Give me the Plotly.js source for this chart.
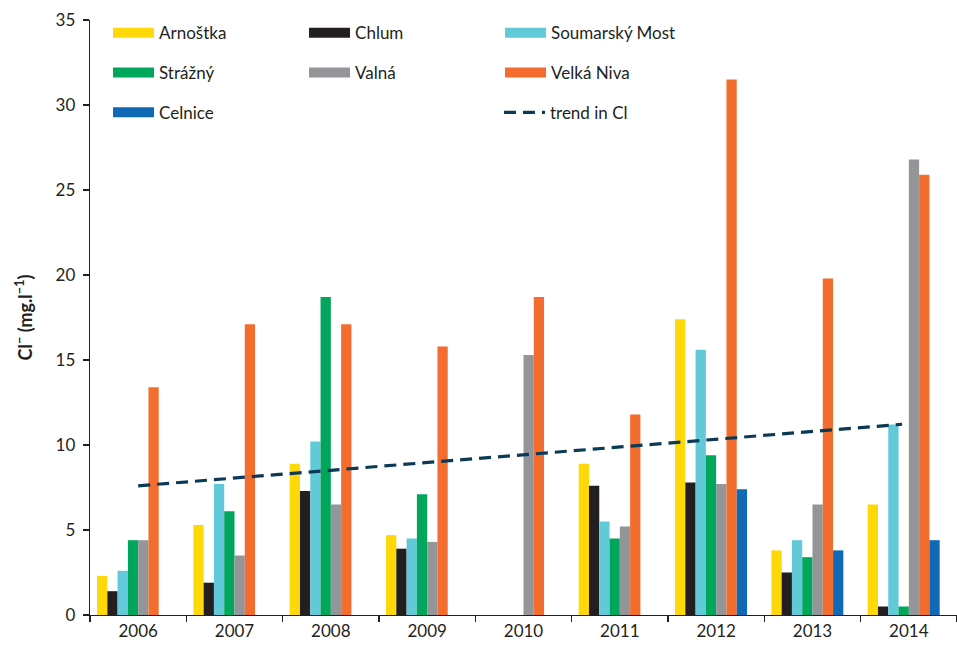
<!DOCTYPE html>
<html><head><meta charset="utf-8">
<script src="https://cdn.plot.ly/plotly-3.0.1.min.js"></script>
<style>html,body{margin:0;padding:0;background:#fff}</style>
</head><body><div id="chart" style="width:957px;height:650px"></div>
<script>
const years = ['2006','2007','2008','2009','2010','2011','2012','2013','2014'];
const arnostka  = [2.3, 5.3, 8.9, 4.7, null, 8.9, 17.4, 3.8, 6.5];
const chlum     = [1.4, 1.9, 7.3, 3.9, null, 7.6, 7.8, 2.5, 0.5];
const soumarsky = [2.6, 7.7, 10.2, 4.5, null, 5.5, 15.6, 4.4, 11.2];
const strazny   = [4.4, 6.1, 18.7, 7.1, null, 4.5, 9.4, 3.4, 0.5];
const valna     = [4.4, 3.5, 6.5, 4.3, 15.3, 5.2, 7.7, 6.5, 26.8];
const velkaNiva = [13.4, 17.1, 17.1, 15.8, 18.7, 11.8, 31.5, 19.8, 25.9];
const celnice   = [null, null, null, null, null, null, 7.4, 3.8, 4.4];
const emptySeries = [null, null, null, null, null, null, null, null, null];
// trend line end points (year position, value)
const trendYears = [2006.0, 2013.93];
const trendValues = [7.6, 11.22];
const seriesNames = ['Arnoštka', 'Chlum', 'Soumarský Most', 'Strážný', 'Valná', 'Velká Niva', 'Celnice'];
const seriesData = [arnostka, chlum, soumarsky, strazny, valna, velkaNiva, celnice];
const seriesColors = ['#FFD808', '#231F20', '#62C9D8', '#00A65B', '#939598', '#F36D2F', '#0F69B4'];
const seriesLegends = ['legend', 'legend', 'legend', 'legend2', 'legend2', 'legend2', 'legend3'];

const FONT = 'Lato, "Open Sans", sans-serif';
const traces = [];
seriesData.forEach((d, i) => {
  traces.push({type: 'bar', x: years, y: d, name: seriesNames[i], marker: {color: seriesColors[i], line: {width: 0}}, showlegend: false});
});
// empty slot (the original chart reserves an eighth column position)
traces.push({type: 'bar', x: years, y: emptySeries, name: 'slot', showlegend: false, hoverinfo: 'skip', marker: {color: 'rgba(0,0,0,0)'}});
// legend swatches
seriesData.forEach((d, i) => {
  traces.push({type: 'scatter', mode: 'lines', x: [null], y: [null], name: seriesNames[i], legend: seriesLegends[i],
    line: {color: seriesColors[i], width: 11}, hoverinfo: 'skip'});
});
traces.push({type: 'scatter', mode: 'lines', x: trendYears, y: trendValues, xaxis: 'x2', name: 'trend in Cl', legend: 'legend4',
  line: {color: '#0C3A56', width: 3.2, dash: '12px,7px'}});

const legendBase = {orientation: 'h', entrywidth: 140, entrywidthmode: 'pixels', itemwidth: 41,
  font: {family: FONT, size: 17, color: '#231F20'}, bgcolor: 'rgba(0,0,0,0)', borderwidth: 0,
  xanchor: 'left', yanchor: 'middle', traceorder: 'normal'};

const layout = {
  width: 957, height: 650,
  margin: {l: 90, r: 0, t: 20, b: 35},
  paper_bgcolor: '#fff', plot_bgcolor: '#fff',
  font: {family: FONT, size: 17, color: '#231F20'},
  barmode: 'group', bargap: 0.146, bargroupgap: 0,
  xaxis: {type: 'category', showline: true, linecolor: '#231F20', linewidth: 1.3, ticks: 'outside', tickson: 'boundaries',
    ticklen: 6, tickcolor: '#231F20', tickwidth: 1.3, showgrid: false, zeroline: false,
    tickfont: {family: FONT, size: 17, color: '#231F20'}},
  xaxis2: {overlaying: 'x', range: [2005.5, 2014.5], visible: false, showgrid: false, zeroline: false},
  yaxis: {range: [0, 35], dtick: 5, showline: true, linecolor: '#231F20', linewidth: 1.3, ticks: 'outside',
    ticklen: 6, tickcolor: '#231F20', tickwidth: 1.3, showgrid: false, zeroline: false,
    tickfont: {family: FONT, size: 17, color: '#231F20'}, ticklabelstandoff: 4,
    title: {text: 'Cl<sup>−</sup> (mg.l<sup>−1</sup>)', font: {family: FONT, size: 18, weight: 'bold', color: '#231F20'}, standoff: 18}},
  showlegend: true,
  legend: Object.assign({}, legendBase, {x: 0.0208, y: 0.978}),
  legend2: Object.assign({}, legendBase, {x: 0.0208, y: 0.911}),
  legend3: Object.assign({}, legendBase, {x: 0.0208, y: 0.844}),
  legend4: Object.assign({}, legendBase, {x: 0.4717, y: 0.844})
};
Plotly.newPlot('chart', traces, layout, {displayModeBar: false, staticPlot: true});
</script></body></html>
